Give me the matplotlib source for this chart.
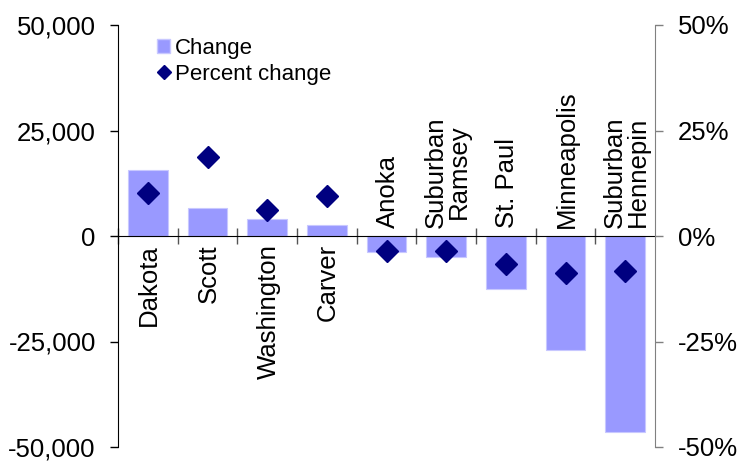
import matplotlib
matplotlib.use("Agg")
import matplotlib.pyplot as plt
from matplotlib.ticker import FuncFormatter, FixedLocator
from matplotlib.lines import Line2D
from matplotlib.patches import Patch

plt.rcParams['font.family'] = ['Liberation Sans', 'DejaVu Sans']

categories = ["Dakota", "Scott", "Washington", "Carver", "Anoka",
              "Suburban\nRamsey", "St. Paul", "Minneapolis", "Suburban\nHennepin"]
change = [15600, 6700, 4100, 2700, -3700, -5000, -12500, -27000, -46500]
pct_change = [10.1, 18.8, 6.1, 9.5, -3.5, -3.5, -6.6, -8.8, -8.2]
left_ticks = [-50000, -25000, 0, 25000, 50000]
right_ticks = [-50, -25, 0, 25, 50]

W, H = 740, 462
fig = plt.figure(figsize=(W / 100, H / 100), dpi=100)
ax = fig.add_axes([118 / W, 15 / H, (655 - 118) / W, (447 - 25) / H])
ax2 = ax.twinx()

x = list(range(len(categories)))
ax.bar(x, change, width=0.66, color="#9999FF", edgecolor="#C8C8FF", linewidth=0.8, zorder=2)
ax.set_xlim(-0.5, len(categories) - 0.5)
ax.set_ylim(-50000, 50000)
ax.yaxis.set_major_locator(FixedLocator(left_ticks))
ax.yaxis.set_major_formatter(FuncFormatter(lambda v, p: f"{int(v):,}"))
ax.tick_params(axis='y', direction='out', length=6, width=1, labelsize=18.5, pad=10, colors='black')

ax.spines['top'].set_visible(False)
ax.spines['right'].set_visible(False)
ax.spines['bottom'].set_position(('data', 0))
ax.spines['bottom'].set_zorder(3)
ax.xaxis.set_major_locator(FixedLocator([i + 0.5 for i in x[:-1]] + [-0.5]))
ax.xaxis.set_major_formatter(FuncFormatter(lambda v, p: ""))
ax.tick_params(axis='x', direction='inout', length=11, width=1, color='#555555')

ax2.set_ylim(-50, 50)
ax2.yaxis.set_major_locator(FixedLocator(right_ticks))
ax2.yaxis.set_major_formatter(FuncFormatter(lambda v, p: f"{int(v)}%"))
ax2.tick_params(axis='y', direction='out', length=5.5, width=1, labelsize=18.5, pad=11,
                color='#808080', labelcolor='black')
for s in ['top', 'left', 'bottom']:
    ax2.spines[s].set_visible(False)
ax2.spines['right'].set_color('#808080')
ax2.plot(x, pct_change, linestyle='none', marker='D', markersize=11.5,
         color='#000080', zorder=4)

for xi, cat, val in zip(x, categories, change):
    if val >= 0:
        ax.annotate(cat, (xi, 0), xytext=(1, -6), textcoords='offset points',
                    rotation=90, ha='center', va='top', fontsize=18.5, linespacing=0.95)
    else:
        ax.annotate(cat, (xi, 0), xytext=(1, 6), textcoords='offset points',
                    rotation=90, ha='center', va='bottom', fontsize=18.5, linespacing=0.95)

handles = [Patch(facecolor="#9999FF", edgecolor="#C8C8FF"),
           Line2D([], [], linestyle='none', marker='D', markersize=7, color='#000080')]
ax2.legend(handles, ["Change", "Percent change"], loc='upper left',
           bbox_to_anchor=(0.056, 0.99), frameon=False, fontsize=16,
           handlelength=0.6, handleheight=0.6, handletextpad=0.2,
           labelspacing=0.2, borderaxespad=0)

fig.savefig("out.png", dpi=100)
